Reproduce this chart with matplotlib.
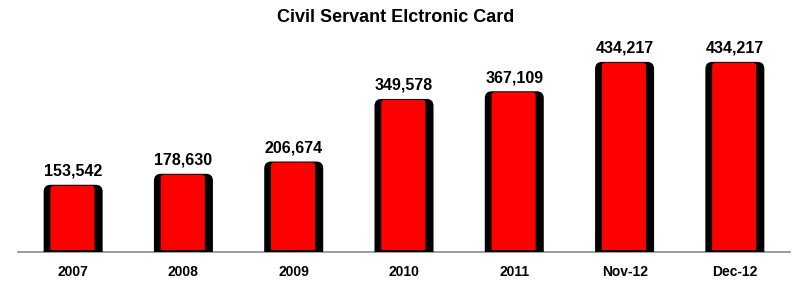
import matplotlib.pyplot as plt
import numpy as np
from matplotlib.patches import PathPatch
from matplotlib.path import Path

title = "Civil Servant Elctronic Card"
categories = ["2007", "2008", "2009", "2010", "2011", "Nov-12", "Dec-12"]
card_counts = [153542, 178630, 206674, 349578, 367109, 434217, 434217]


def rounded_bar(ax, x, top, width, color, rx, ry, base=0.0):
    # rectangle with rounded top corners only (rx, ry = corner radius in data units)
    x0, x1 = x - width / 2, x + width / 2
    verts = [
        (x0, base), (x0, top - ry), (x0, top), (x0 + rx, top),
        (x1 - rx, top), (x1, top), (x1, top - ry), (x1, base), (x0, base),
    ]
    codes = [
        Path.MOVETO, Path.LINETO, Path.CURVE3, Path.CURVE3,
        Path.LINETO, Path.CURVE3, Path.CURVE3, Path.LINETO, Path.CLOSEPOLY,
    ]
    ax.add_patch(PathPatch(Path(verts, codes), facecolor=color, edgecolor="none", snap=False))


def main() -> None:
    fig_w, fig_h, dpi = 7.92, 2.81, 100
    left, bottom, width, height = 18 / 792, 29 / 281, 772 / 792, 222 / 281
    ymax = 507000

    fig = plt.figure(figsize=(fig_w, fig_h), dpi=dpi)
    ax = fig.add_axes([left, bottom, width, height])

    x = np.arange(len(categories))
    ax.set_xlim(-0.5, len(categories) - 0.5)
    ax.set_ylim(0, ymax)

    # data units per pixel in x and y
    x_per_px = len(categories) / (width * fig_w * dpi)
    y_per_px = ymax / (height * fig_h * dpi)

    for xi, val in zip(x, card_counts):
        rounded_bar(ax, xi, val, 0.535, "black", 7 * x_per_px, 7 * y_per_px)
        rounded_bar(ax, xi - 0.006, val - 1 * y_per_px, 0.40, "#ff0000",
                    3 * x_per_px, 3 * y_per_px, base=2 * y_per_px)
        ax.text(xi, val + 6 * y_per_px, f"{val:,}", ha="center", va="bottom",
                fontsize=11.5, fontweight="bold", family="Liberation Sans")

    ax.set_xticks(x)
    ax.set_xticklabels(categories, fontsize=10, fontweight="bold", family="Liberation Sans")
    ax.tick_params(axis="x", length=0, pad=9)
    ax.set_yticks([])
    for side in ("top", "left", "right"):
        ax.spines[side].set_visible(False)
    ax.spines["bottom"].set_color("#8c8c8c")
    ax.spines["bottom"].set_linewidth(1.2)
    ax.spines["bottom"].set_zorder(0)

    fig.text(0.5, 1 - 17 / 281, title, ha="center", va="center",
             fontsize=13, fontweight="bold", family="Liberation Sans")

    fig.savefig("out.png", dpi=dpi)
    plt.close(fig)


if __name__ == "__main__":
    main()
